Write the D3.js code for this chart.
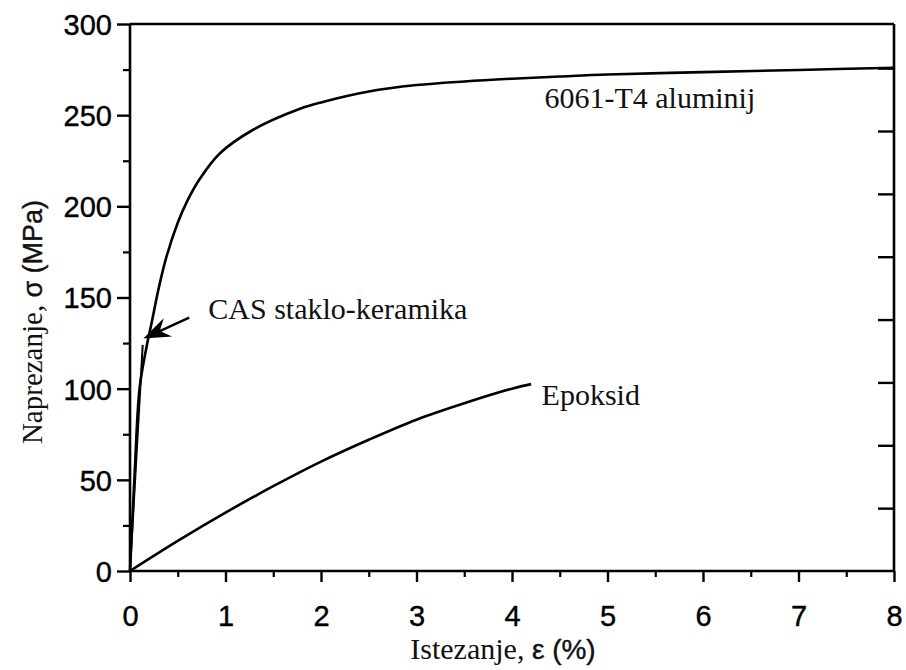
<!DOCTYPE html>
<html>
<head>
<meta charset="utf-8">
<script src="https://cdn.jsdelivr.net/npm/d3@7"></script>
<style>
  html, body { margin: 0; padding: 0; background: #fff; }
  svg { display: block; }
</style>
</head>
<body>
<svg id="chart" width="906" height="670"></svg>
<script>
// ---- data (strain %, stress MPa) ----
const aluminiumStrain = [0, 0.05, 0.1, 0.17, 0.23, 0.3, 0.38, 0.5, 0.6, 0.73, 0.94, 1.29, 1.78, 2.0, 2.5, 3.0, 3.5, 4.0, 4.5, 5.0, 6.0, 7.0, 8.0];
const aluminiumStress = [0, 55, 100, 122, 137, 155, 172, 191, 203, 215, 229, 242, 253.5, 257, 263, 266.5, 268.5, 270, 271.2, 272.3, 273.6, 274.8, 276];
const casStrain = [0, 0.133];
const casStress = [0, 124];
const epoxyStrain = [0, 0.5, 1.0, 1.5, 2.0, 2.5, 3.0, 3.5, 4.0, 4.2];
const epoxyStress = [0, 16.5, 32, 46.5, 60, 72, 83, 92, 100, 102.5];

const xMajorTicks = [0, 1, 2, 3, 4, 5, 6, 7, 8];
const xMinorTicks = [0.5, 1.5, 2.5, 3.5, 4.5, 5.5, 6.5, 7.5];
const yMajorTicks = [0, 50, 100, 150, 200, 250, 300];
const yMinorTicks = [25, 75, 125, 175, 225, 275];
const ksiTicks = [5, 10, 15, 20, 25, 30, 35, 40]; // right axis, unlabeled (ksi)
const MPA_PER_KSI = 6.894757;

const labels = [
  { text: "6061-T4 aluminij", x: 4.34, y: 254 },
  { text: "CAS staklo-keramika", x: 0.82, y: 138 },
  { text: "Epoksid", x: 4.31, y: 91 }
];
const arrowTail = [0.62, 139];
const arrowTip = [0.14, 127.5];

// ---- layout ----
const svg = d3.select("#chart");
const x = d3.scaleLinear().domain([0, 8]).range([130, 894]);
const y = d3.scaleLinear().domain([0, 300]).range([571, 24]);

const SANS = "'Liberation Sans', Arial, Helvetica, sans-serif";
const SERIF = "'Liberation Serif', 'Times New Roman', serif";
const AXW = 2.6;

// frame (top + right)
svg.append("line").attr("x1", x(0)).attr("x2", x(8)).attr("y1", y(300)).attr("y2", y(300))
  .attr("stroke", "#000").attr("stroke-width", AXW);
svg.append("line").attr("x1", x(8)).attr("x2", x(8)).attr("y1", y(300)).attr("y2", y(0))
  .attr("stroke", "#000").attr("stroke-width", AXW);

// bottom axis
const xAxis = d3.axisBottom(x).tickValues(xMajorTicks).tickSize(11).tickPadding(23).tickFormat(d3.format("d"));
const gx = svg.append("g").attr("transform", `translate(0,${y(0)})`).call(xAxis);
gx.select(".domain").attr("stroke-width", AXW).attr("d", `M${x(0)},0H${x(8)}`);
gx.selectAll(".tick line").attr("stroke-width", 2.4);
gx.selectAll(".tick text").attr("font-family", SANS).attr("font-size", 29).attr("fill", "#000")
  .attr("stroke", "#000").attr("stroke-width", 0.4);
const gxm = svg.append("g").attr("transform", `translate(0,${y(0)})`)
  .call(d3.axisBottom(x).tickValues(xMinorTicks).tickSize(6).tickFormat(""));
gxm.select(".domain").remove();
gxm.selectAll(".tick line").attr("stroke-width", 2.2);

// left axis
const yAxis = d3.axisLeft(y).tickValues(yMajorTicks).tickSize(13).tickPadding(5).tickFormat(d3.format("d"));
const gy = svg.append("g").attr("transform", `translate(${x(0)},0)`).call(yAxis);
gy.select(".domain").attr("stroke-width", AXW).attr("d", `M0,${y(0)}V${y(300)}`);
gy.selectAll(".tick line").attr("stroke-width", 2.4);
gy.selectAll(".tick text").attr("font-family", SANS).attr("font-size", 29).attr("fill", "#000").attr("dy", "0.36em")
  .attr("stroke", "#000").attr("stroke-width", 0.4);
const gym = svg.append("g").attr("transform", `translate(${x(0)},0)`)
  .call(d3.axisLeft(y).tickValues(yMinorTicks).tickSize(7).tickFormat(""));
gym.select(".domain").remove();
gym.selectAll(".tick line").attr("stroke-width", 2.2);

// right axis ticks (ksi, inward, unlabeled)
const gr = svg.append("g").attr("transform", `translate(${x(8)},0)`)
  .call(d3.axisLeft(y).tickValues(ksiTicks.map(k => k * MPA_PER_KSI)).tickSize(16).tickFormat(""));
gr.select(".domain").remove();
gr.selectAll(".tick line").attr("stroke-width", 2.4).attr("x2", -16);

// curves
const line = d3.line().x(d => x(d[0])).y(d => y(d[1])).curve(d3.curveCatmullRom.alpha(0.5));
const curves = [
  d3.zip(aluminiumStrain, aluminiumStress),
  d3.zip(epoxyStrain, epoxyStress)
];
svg.selectAll("path.curve").data(curves).enter().append("path")
  .attr("class", "curve")
  .attr("d", line)
  .attr("fill", "none").attr("stroke", "#000").attr("stroke-width", 2.6).attr("stroke-linejoin", "round");
svg.append("path").datum(d3.zip(casStrain, casStress))
  .attr("d", d3.line().x(d => x(d[0])).y(d => y(d[1])))
  .attr("fill", "none").attr("stroke", "#000").attr("stroke-width", 2);

// labels
svg.selectAll("text.lbl").data(labels).enter().append("text")
  .attr("class", "lbl")
  .attr("x", d => x(d.x)).attr("y", d => y(d.y))
  .attr("font-family", SERIF).attr("font-size", 30).attr("fill", "#111")
  .text(d => d.text);

// arrow
const tx = x(arrowTail[0]), ty = y(arrowTail[1]);
const px = x(arrowTip[0]), py = y(arrowTip[1]);
const len = Math.hypot(tx - px, ty - py);
const ux = (tx - px) / len, uy = (ty - py) / len;
const nx = -uy, ny = ux;
const hl = 27, hw = 10, notch = 18;
svg.append("line").attr("x1", tx).attr("y1", ty).attr("x2", px + ux * notch).attr("y2", py + uy * notch)
  .attr("stroke", "#000").attr("stroke-width", 2.4);
svg.append("path")
  .attr("d", `M${px},${py}L${px + ux * hl + nx * hw},${py + uy * hl + ny * hw}L${px + ux * notch},${py + uy * notch}L${px + ux * hl - nx * hw},${py + uy * hl - ny * hw}Z`)
  .attr("fill", "#000");

// axis titles
const xt = svg.append("text").attr("x", 503).attr("y", 659).attr("text-anchor", "middle").attr("fill", "#111");
xt.append("tspan").attr("font-family", SERIF).attr("font-size", 30).text("Istezanje, ");
xt.append("tspan").attr("font-family", SANS).attr("font-size", 28).attr("stroke", "#111").attr("stroke-width", 0.4).text("ε (%)");

const yt = svg.append("text").attr("transform", "translate(42,322) rotate(-90)").attr("text-anchor", "middle").attr("fill", "#111");
yt.append("tspan").attr("font-family", SERIF).attr("font-size", 29).text("Naprezanje, ");
yt.append("tspan").attr("font-family", SANS).attr("font-size", 27).attr("stroke", "#111").attr("stroke-width", 0.4).text("σ (MPa)");
</script>
</body>
</html>
